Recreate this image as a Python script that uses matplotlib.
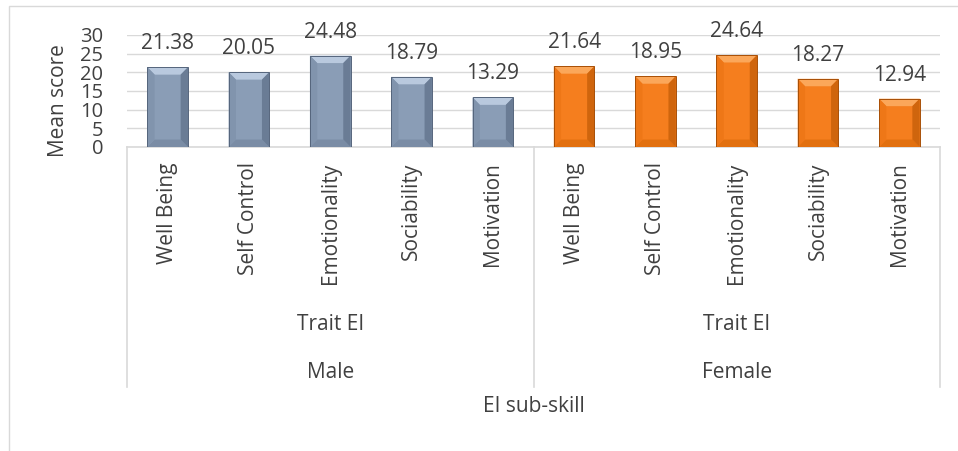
import matplotlib
matplotlib.use('Agg')
import matplotlib.pyplot as plt
from matplotlib.patches import Polygon, Rectangle
from matplotlib.lines import Line2D
import matplotlib.transforms as mtransforms

subskills = ['Well Being', 'Self Control', 'Emotionality', 'Sociability', 'Motivation']
groups = ['Male', 'Female']
level2_label = 'Trait EI'
male_scores = [21.38, 20.05, 24.48, 18.79, 13.29]
female_scores = [21.64, 18.95, 24.64, 18.27, 12.94]
y_ticks = [0, 5, 10, 15, 20, 25, 30]
y_label = 'Mean score'
x_label = 'EI sub-skill'

plt.rcParams['font.family'] = ['Open Sans', 'DejaVu Sans']
TEXT = '#404040'
GRID = '#d9d9d9'

W, H = 958, 451
fig = plt.figure(figsize=(W / 100, H / 100), dpi=100)
ax = fig.add_axes([127 / W, 1 - 147 / H, (940 - 127) / W, (147 - 35) / H])

palettes = {
    'Male': dict(face='#8a9db6', top='#b9c9de', side='#8194ad', right='#6a7c95',
                 bottom='#7a8ca5', edge='#55657c'),
    'Female': dict(face='#f57e1e', top='#fba75a', side='#ee7717', right='#cf650d',
                   bottom='#e2700f', edge='#a84f06'),
}

all_scores = [male_scores, female_scores]
labels = subskills * len(groups)
bar_w = 0.5
dx = 0.09
dy = 2.0

x = 0
for g, scores in zip(groups, all_scores):
    p = palettes[g]
    for v in scores:
        x0, x1 = x - bar_w / 2, x + bar_w / 2
        d = min(dy, v / 3)
        ax.add_patch(Rectangle((x0, 0), bar_w, v, facecolor=p['face'],
                               edgecolor='none', zorder=3))
        ax.add_patch(Polygon([(x0, v), (x1, v), (x1 - dx, v - d), (x0 + dx, v - d)],
                             closed=True, facecolor=p['top'], edgecolor='none', zorder=4))
        ax.add_patch(Polygon([(x0, 0), (x1, 0), (x1 - dx, d), (x0 + dx, d)],
                             closed=True, facecolor=p['bottom'], edgecolor='none', zorder=4))
        ax.add_patch(Polygon([(x0, 0), (x0, v), (x0 + dx, v - d), (x0 + dx, d)],
                             closed=True, facecolor=p['side'], edgecolor='none', zorder=4))
        ax.add_patch(Polygon([(x1, 0), (x1, v), (x1 - dx, v - d), (x1 - dx, d)],
                             closed=True, facecolor=p['right'], edgecolor='none', zorder=4))
        ax.add_patch(Rectangle((x0, 0), bar_w, v, facecolor='none',
                               edgecolor=p['edge'], lw=0.7, zorder=5))
        ax.annotate(f'{v:.2f}', (x, v), xytext=(0, 13), textcoords='offset points',
                    ha='center', va='baseline', fontsize=15, color=TEXT, zorder=6)
        x += 1

n = len(labels)
ax.set_xlim(-0.5, n - 0.5)
ax.set_ylim(0, 30)
ax.set_yticks(y_ticks)
ax.set_yticklabels([str(t) for t in y_ticks], fontsize=14.5, color=TEXT)
ax.set_xticks(range(n))
ax.set_xticklabels(labels, rotation=90, va='top', ha='center', fontsize=15, color=TEXT)
ax.tick_params(axis='y', length=0, pad=17)
ax.tick_params(axis='x', length=0, pad=11)
ax.yaxis.grid(True, color=GRID, lw=1)
ax.set_axisbelow(True)
for s in ['left', 'top', 'right']:
    ax.spines[s].set_visible(False)
ax.spines['bottom'].set_color(GRID)
ax.spines['bottom'].set_linewidth(1.2)

blend = mtransforms.blended_transform_factory(ax.transData, fig.transFigure)
per = len(subskills)
for xs in [-0.5 + i * per for i in range(len(groups) + 1)]:
    fig.add_artist(Line2D([xs, xs], [1 - 147 / H, 1 - 387 / H], transform=blend,
                          color=GRID, lw=1.2))
for i, g in enumerate(groups):
    cx = i * per + (per - 1) / 2
    fig.text(cx, 1 - 325 / H, level2_label, transform=blend, ha='center', va='center',
             fontsize=15, color=TEXT)
    fig.text(cx, 1 - 372 / H, g, transform=blend, ha='center', va='center',
             fontsize=15, color=TEXT)

fig.text((n - 1) / 2, 1 - 407 / H, x_label, transform=blend, ha='center', va='center',
         fontsize=15, color=TEXT)
fig.text(58 / W, 1 - 101 / H, y_label, rotation=90, ha='center', va='center',
         fontsize=15, color=TEXT)

fig.add_artist(Rectangle((9 / W, -0.2), 1.2, 1.2 - 6 / H, transform=fig.transFigure,
                         fill=False, edgecolor=GRID, lw=1))

fig.savefig('out.png', dpi=100)
